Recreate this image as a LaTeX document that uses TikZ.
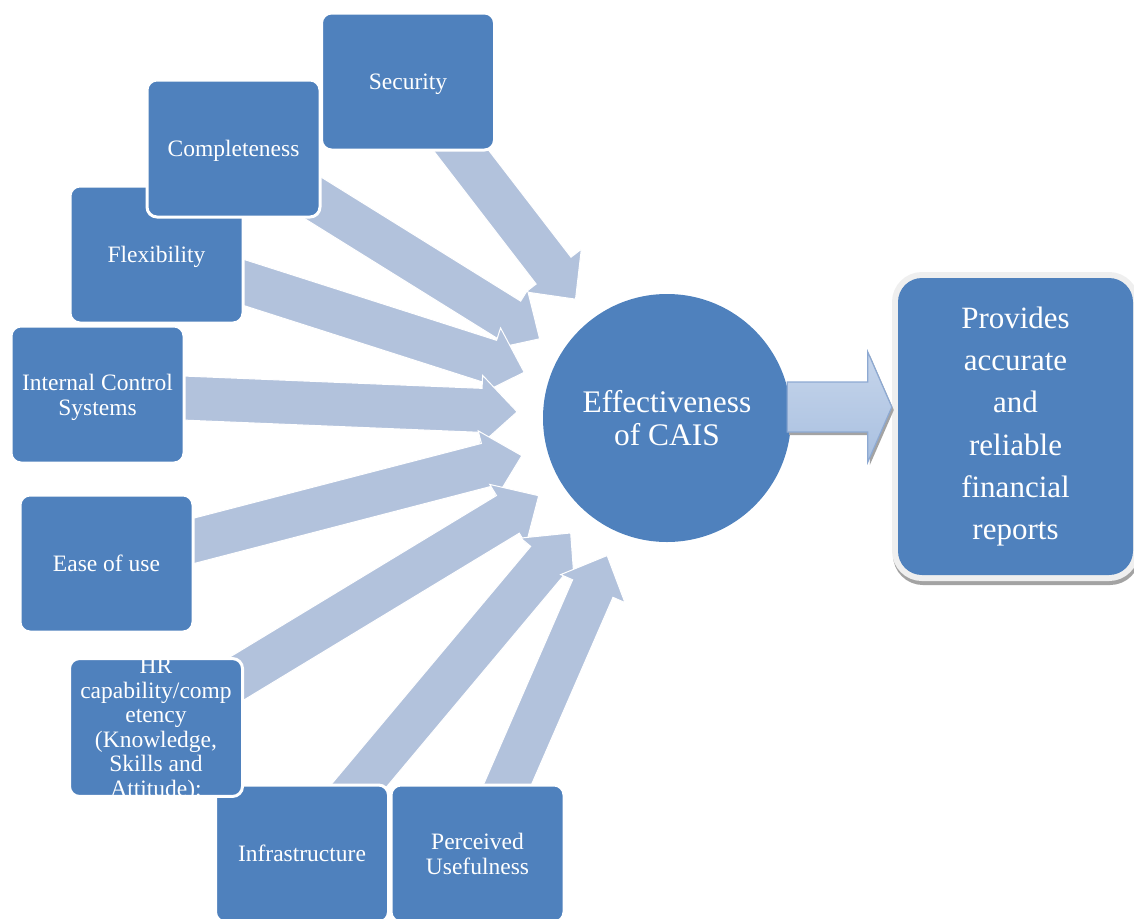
\documentclass[tikz,border=0pt]{standalone}
\usepackage{fontspec}
\setmainfont{Liberation Serif}
\usetikzlibrary{calc}
\definecolor{boxblue}{HTML}{4F81BD}
\definecolor{arrowblue}{HTML}{B2C2DC}
\definecolor{framegray}{HTML}{EFEFEF}
\definecolor{shadowgray}{HTML}{A3A3A3}
\definecolor{bigedge}{HTML}{8DA9D2}
\definecolor{bigtop}{HTML}{C6D5EB}
\definecolor{bigmid}{HTML}{DFE7F3}
\definecolor{bigbot}{HTML}{A9C0E0}
\pgfdeclarelayer{bg}
\pgfsetlayers{bg,main}
\tikzset{
  inbox/.style={rectangle, rounded corners=10pt, fill=boxblue, draw=white, line width=3pt,
    minimum width=173pt, minimum height=137pt, text=white, align=center, inner sep=0pt,
    text depth=0pt, font=\fontsize{23.5}{25}\selectfont},
  radarr/.style={fill=arrowblue, draw=white, line width=1pt, line join=miter},
}
\newcommand\radarrow[1]{%
  \path (#1.center) coordinate (ta) (circ.center) coordinate (ca);
  \path ($(ca)!150pt!(ta)$) coordinate (pa) ($(ca)!186pt!(ta)$) coordinate (ba);
  \filldraw[radarr] ($(ta)!22pt!90:(ca)$) -- ($(ba)!22pt!90:(ca)$) -- ($(ba)!35pt!90:(ca)$)
    -- (pa) -- ($(ba)!35pt!-90:(ca)$) -- ($(ba)!22pt!-90:(ca)$) -- ($(ta)!22pt!-90:(ca)$) -- cycle;}
\newcommand\bigarrowpath{($(bs)+(0,-25)$) -- ($(bt)+(-24,-25)$) -- ($(bt)+(-24,-55)$) -- (bt)
    -- ($(bt)+(-24,55)$) -- ($(bt)+(-24,25)$) -- ($(bs)+(0,25)$) -- cycle}
\begin{document}
\begin{tikzpicture}[x=1pt,y=-1pt]
\useasboundingbox (0,0) rectangle (1134,918);
\clip (0,0) rectangle (1134,918);
% boxes (lower ones first so upper ones overlap them)
\node[inbox] (perc) at (477.5,853.5) {Perceived\\Usefulness};
\node[inbox] (infra) at (302,853.5) {Infrastructure};
\node[inbox, font=\fontsize{23.5}{24.5}\selectfont] (hr) at (156,727.5) {HR\\capability/comp\\etency\\(Knowledge,\\Skills and\\Attitude):};
\node[inbox] (ease) at (106.5,563.5) {Ease of use};
\node[inbox] (ics) at (97.5,394.5) {Internal Control\\Systems};
\node[inbox] (flex) at (156.5,254.5) {Flexibility};
\node[inbox] (comp) at (233.5,148.5) {Completeness};
\node[inbox] (sec) at (408,81.5) {Security};
% centre circle
\node[circle, fill=boxblue, minimum size=248pt, inner sep=0pt, text=white, align=center,
  font=\fontsize{31.4}{33}\selectfont] (circ) at (667,418) {Effectiveness\\of CAIS};
% converging arrows (behind the boxes)
\begin{pgfonlayer}{bg}
\radarrow{sec}
\radarrow{comp}
\radarrow{flex}
\radarrow{ics}
\radarrow{ease}
\radarrow{hr}
\radarrow{infra}
\radarrow{perc}
\end{pgfonlayer}
% result box
\node[rectangle, rounded corners=24pt, fill=boxblue, minimum width=235pt, minimum height=297pt,
  text=white, align=center, inner sep=0pt, font=\fontsize{31}{42.3}\selectfont,
  preaction={draw=shadowgray, fill=shadowgray, line width=12pt, transform canvas={shift={(1pt,-4pt)}}},
  preaction={draw=framegray, line width=12pt}] (res) at (1015.5,426.5)
  {Provides\\accurate\\and\\reliable\\financial\\reports};
% big arrow
\coordinate (bs) at ($(circ.east)+(-4,-11)$);
\coordinate (bt) at ($(res.west |- bs)+(-6,0)$);
\begin{scope}[transform canvas={shift={(2pt,-3pt)}}]
\fill[shadowgray] \bigarrowpath;
\end{scope}
\shade[top color=bigtop, middle color=bigmid, bottom color=bigbot] \bigarrowpath;
\draw[bigedge, line width=1.2pt, line join=miter] \bigarrowpath;
\end{tikzpicture}
\end{document}
